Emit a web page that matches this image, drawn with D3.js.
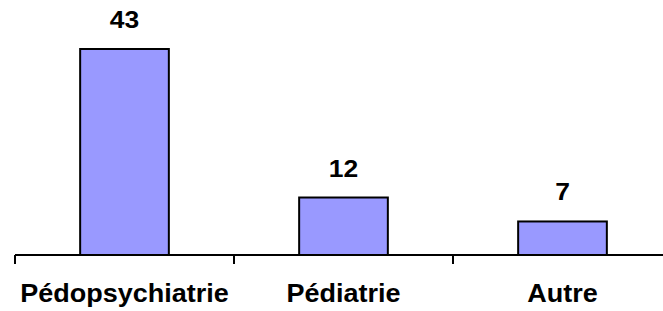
<!DOCTYPE html>
<meta charset="utf-8">
<script src="https://d3js.org/d3.v7.min.js"></script>
<style>
  body { margin: 0; background: #fff; }
  text { font-family: "Liberation Sans", Arial, sans-serif; font-weight: bold; fill: #000; }
</style>
<body>
<svg width="663" height="311"></svg>
<script>
var categories = ["Pédopsychiatrie", "Pédiatrie", "Autre"];
var values = [43, 12, 7];

var svg = d3.select("svg"),
    x0 = 15, bandW = 219,
    axisY = 255;

var x = d3.scaleBand()
    .domain(categories)
    .range([x0, x0 + bandW * categories.length])
    .paddingInner(0.595)
    .paddingOuter(0.2975);

var y = d3.scaleLinear()
    .domain([0, 43])
    .range([axisY, 49]);

var data = categories.map(function(c, i) { return {cat: c, value: values[i]}; });

svg.selectAll("rect.bar")
    .data(data)
    .enter().append("rect")
    .attr("class", "bar")
    .attr("x", function(d) { return x(d.cat); })
    .attr("y", function(d) { return y(d.value); })
    .attr("width", x.bandwidth())
    .attr("height", function(d) { return axisY - y(d.value); })
    .attr("fill", "#9999ff")
    .attr("stroke", "#000")
    .attr("stroke-width", 2);

// the reference text is a bit wider than plain Arial, stretch it horizontally
svg.selectAll("text.val")
    .data(data)
    .enter().append("text")
    .attr("class", "val")
    .attr("transform", function(d) {
      return "translate(" + (x(d.cat) + x.bandwidth() / 2) + "," + (y(d.value) - 21) + ") scale(1.15,1)";
    })
    .attr("text-anchor", "middle")
    .style("font-size", "23px")
    .text(function(d) { return d.value; });

// axis line with ticks at band boundaries
var g = svg.append("g");
g.append("line")
    .attr("x1", x0).attr("x2", 663)
    .attr("y1", axisY).attr("y2", axisY)
    .attr("stroke", "#000").attr("stroke-width", 2);

var edges = d3.range(categories.length + 1).map(function(i) { return x0 + i * bandW; });
g.selectAll("line.tick")
    .data(edges)
    .enter().append("line")
    .attr("class", "tick")
    .attr("x1", function(d) { return d; }).attr("x2", function(d) { return d; })
    .attr("y1", axisY).attr("y2", axisY + 9)
    .attr("stroke", "#000").attr("stroke-width", 2);

g.selectAll("text.cat")
    .data(categories)
    .enter().append("text")
    .attr("class", "cat")
    .attr("transform", function(d) {
      return "translate(" + (x(d) + x.bandwidth() / 2) + ",302) scale(1.08,1)";
    })
    .attr("text-anchor", "middle")
    .style("font-size", "25px")
    .text(function(d) { return d; });
</script>
</body>
